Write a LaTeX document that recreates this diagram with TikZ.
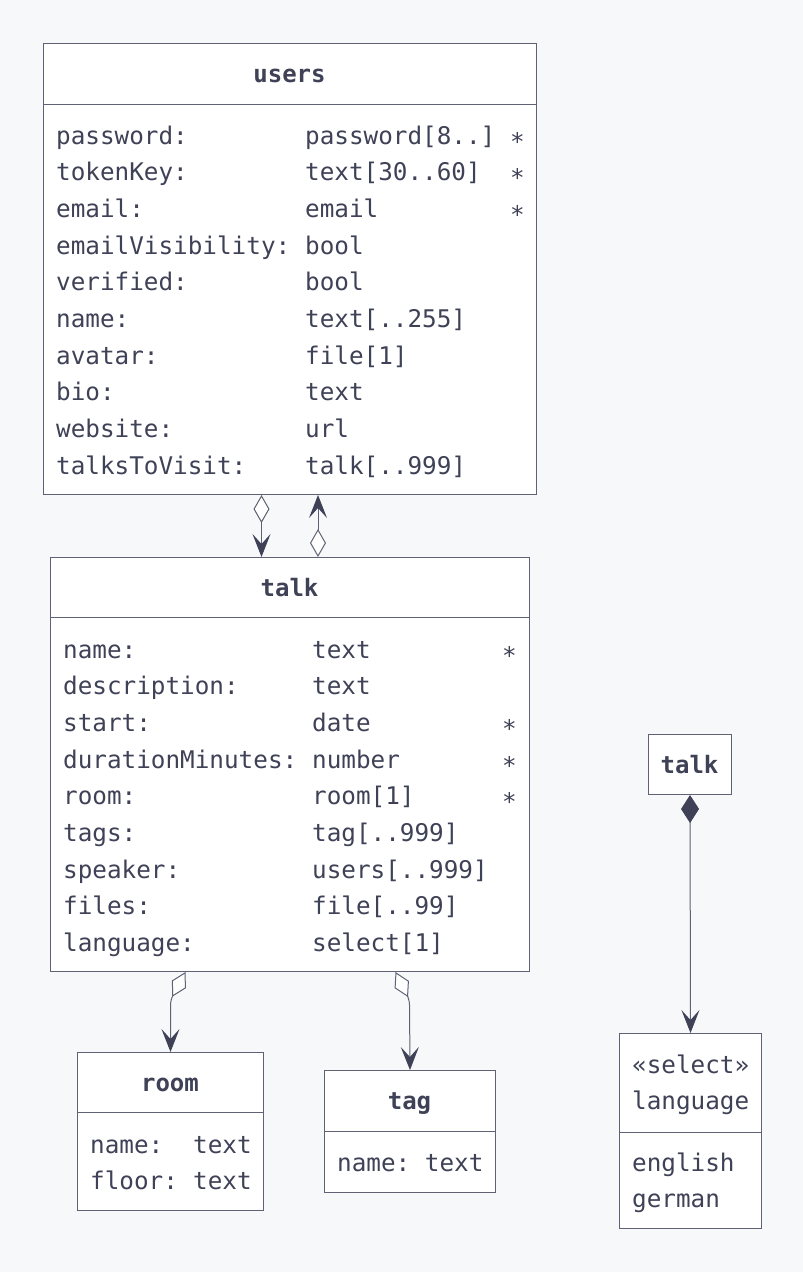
\documentclass[tikz,border=0pt]{standalone}
\usepackage{fontspec}
\setmonofont{DejaVu Sans Mono}
\usepackage{xcolor}
\usetikzlibrary{arrows.meta}
\definecolor{ink}{HTML}{3F4257}
\definecolor{rule}{HTML}{5F6274}
\definecolor{paper}{HTML}{F7F8FA}
\tikzset{
  cls/.style={draw=rule, fill=white, line width=1pt, inner sep=0pt, anchor=north west},
  title/.style={font=\ttfamily\bfseries\fontsize{24}{24}\selectfont, text=ink, anchor=base, inner sep=0pt},
  attr/.style={font=\ttfamily\fontsize{24.3}{24}\selectfont, text=ink, anchor=base west, inner sep=0pt},
  sep/.style={draw=rule, line width=1pt},
  link/.style={draw=rule, line width=1pt, rounded corners=5pt},
  agg/.style={link, {Diamond[fill=white,length=28pt,width=16pt]}-{Stealth[ink,length=23pt,width=18pt,inset=10pt]}},
  comp/.style={link, {Diamond[ink,fill=ink,length=28pt,width=18pt]}-{Stealth[ink,length=23pt,width=18pt,inset=10pt]}},
}
\begin{document}
\begin{tikzpicture}[x=1pt,y=-1pt]
\fill[paper] (0,0) rectangle (803,1272);

% users
\node[cls, minimum width=493pt, minimum height=451pt] (users) at (43,43) {};
\draw[sep] ([yshift=-61pt]users.north west) -- ([yshift=-61pt]users.north east);
\node[title] (users-t) at (289.5,82.5) {users};
\foreach \a/\b [count=\i from 0] in {password:/password[8..], tokenKey:/text[30..60], email:/email, emailVisibility:/bool, verified:/bool, name:/text[..255], avatar:/file[1], bio:/text, website:/url, talksToVisit:/talk[..999]}{
  \node[attr] (users-a\i) at (56,144+36.67*\i) {\a};
  \node[attr] (users-b\i) at (305,144+36.67*\i) {\b};
}
\foreach \i in {0,1,2}
  \node[attr] (users-s\i) at (510,144+36.67*\i) {\raisebox{-6pt}{*}};

% talk
\node[cls, minimum width=479pt, minimum height=414pt] (talk) at (50,557) {};
\draw[sep] ([yshift=-60pt]talk.north west) -- ([yshift=-60pt]talk.north east);
\node[title] (talk-t) at (289.5,596.5) {talk};
\foreach \a/\b [count=\i from 0] in {name:/text, description:/text, start:/date, durationMinutes:/number, room:/room[1], tags:/tag[..999], speaker:/users[..999], files:/file[..99], language:/select[1]}{
  \node[attr] (talk-a\i) at (63,658+36.67*\i) {\a};
  \node[attr] (talk-b\i) at (312,658+36.67*\i) {\b};
}
\foreach \i in {0,2,3,4}
  \node[attr] (talk-s\i) at (502,658+36.67*\i) {\raisebox{-6pt}{*}};

% room
\node[cls, minimum width=186pt, minimum height=158pt] (room) at (77,1052) {};
\draw[sep] ([yshift=-60pt]room.north west) -- ([yshift=-60pt]room.north east);
\node[title] (room-t) at (170,1091.5) {room};
\node[attr] (room-a0) at (90,1153) {name:};
\node[attr] (room-b0) at (193,1153) {text};
\node[attr] (room-a1) at (90,1189.7) {floor:};
\node[attr] (room-b1) at (193,1189.7) {text};

% tag
\node[cls, minimum width=171pt, minimum height=122pt] (tag) at (324,1070) {};
\draw[sep] ([yshift=-61pt]tag.north west) -- ([yshift=-61pt]tag.north east);
\node[title] (tag-t) at (409.5,1109.5) {tag};
\node[attr] (tag-a0) at (337,1171) {name: text};

% talk (enum owner) and language
\node[cls, minimum width=83pt, minimum height=60pt] (talk2) at (648,734) {};
\node[title] (talk2-t) at (689.5,773) {talk};
\node[cls, minimum width=142pt, minimum height=195pt] (lang) at (619,1033) {};
\draw[sep] ([yshift=-99pt]lang.north west) -- ([yshift=-99pt]lang.north east);
\node[attr] (lang-a0) at (632,1073) {«select»};
\node[attr] (lang-a1) at (632,1109.5) {language};
\node[attr] (lang-b0) at (632,1171) {english};
\node[attr] (lang-b1) at (632,1207.7) {german};

% links
\draw[agg] ([xshift=-28.5pt]users.south) -- ([xshift=-28.5pt]talk.north);
\draw[agg] ([xshift=28pt]talk.north) -- ([xshift=28pt]users.south);
\draw[agg] ([xshift=-104.5pt]talk.south) -- ++(-15,28) -- (room.north);
\draw[agg] ([xshift=105.5pt]talk.south) -- ++(14,28) -- (tag.north);
\draw[comp] (talk2.south) -- (lang.north);
\end{tikzpicture}
\end{document}
